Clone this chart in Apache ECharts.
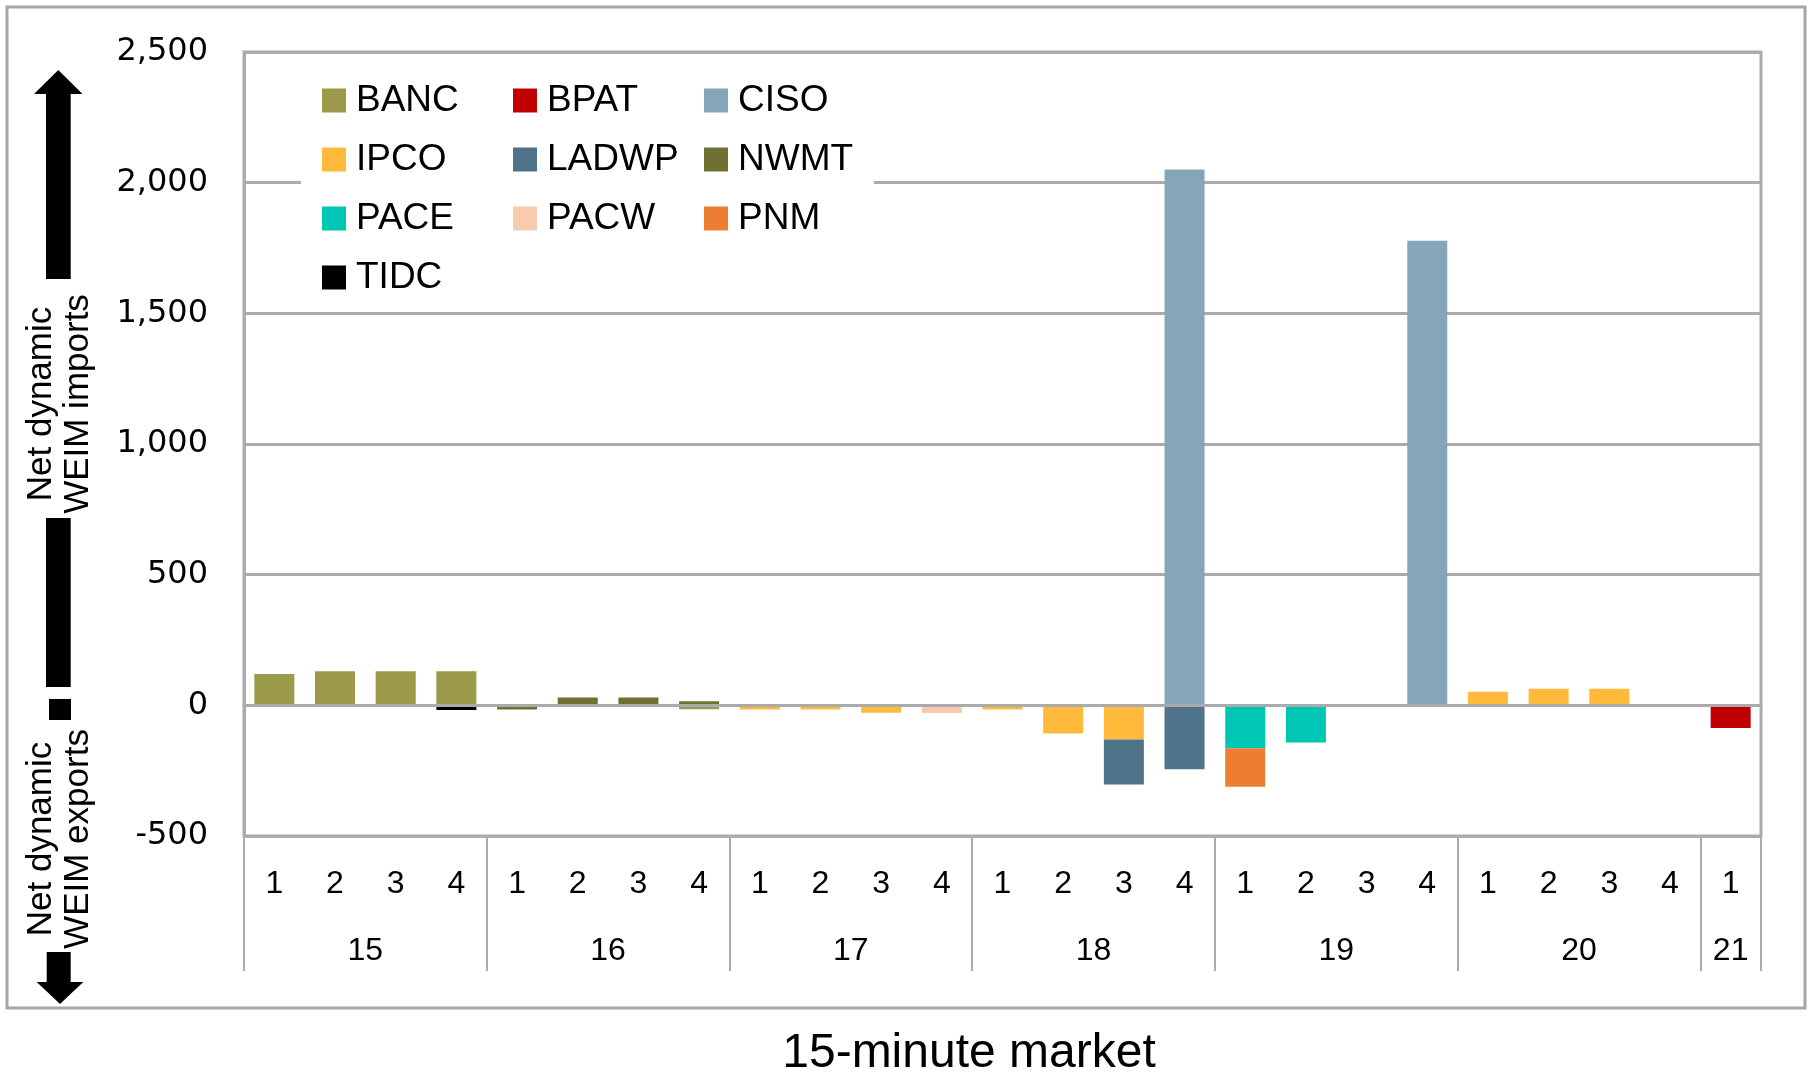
<!DOCTYPE html>
<html>
<head>
<meta charset="utf-8">
<script src="https://cdn.jsdelivr.net/npm/echarts@6/dist/echarts.min.js"></script>
<style>
html,body{margin:0;padding:0;background:#fff;}
#chart{width:1808px;height:1074px;}
</style>
</head>
<body>
<div id="chart"></div>
<script>
// ---- data ----
const hours = ['15','16','17','18','19','20','21'];
const intervalsPerHour = [4,4,4,4,4,4,1];
const seriesNames = ['BANC','BPAT','CISO','IPCO','LADWP','NWMT','PACE','PACW','PNM','TIDC'];
const seriesColors = ['#9A9A4A','#C00000','#84A6B8','#FFB93B','#4F7489','#707034','#00C7B3','#F7CBAD','#ED7D31','#000000'];
const yTicks = [-500, 0, 500, 1000, 1500, 2000, 2500];
//            15-1 15-2 15-3 15-4 16-1 16-2 16-3 16-4 17-1 17-2 17-3 17-4 18-1 18-2 18-3 18-4 19-1 19-2 19-3 19-4 20-1 20-2 20-3 20-4 21-1
const BANC  = [120, 130, 130, 130, null,null,null,-15, null,null,null,null,null,null,null,null,null,null,null,null,null,null,null,null,null];
const BPAT  = [null,null,null,null,null,null,null,null,null,null,null,null,null,null,null,null,null,null,null,null,null,null,null,null,-87];
const CISO  = [null,null,null,null,null,null,null,null,null,null,null,null,null,null,null,2050,null,null,null,1778,null,null,null,null,null];
const IPCO  = [null,null,null,null,null,null,null,null,-16, -16, -28, null,-16, -108,-131,null,null,null,null,null,52,  63,  63,  null,null];
const LADWP = [null,null,null,null,null,null,null,null,null,null,null,null,null,null,-172,-245,null,null,null,null,null,null,null,null,null];
const NWMT  = [null,null,null,null,-16, 30,  30,  16,  null,null,null,null,null,null,null,null,null,null,null,null,null,null,null,null,null];
const PACE  = [null,null,null,null,null,null,null,null,null,null,null,null,null,null,null,null,-164,-142,null,null,null,null,null,null,null];
const PACW  = [null,null,null,null,null,null,null,null,null,null,null,-29, null,null,null,null,null,null,null,null,null,null,null,null,null];
const PNM   = [null,null,null,null,null,null,null,null,null,null,null,null,null,null,null,null,-148,null,null,null,null,null,null,null,null];
const TIDC  = [null,null,null,-18, null,null,null,null,null,null,null,null,null,null,null,null,null,null,null,null,null,null,null,null,null];
const seriesData = [BANC,BPAT,CISO,IPCO,LADWP,NWMT,PACE,PACW,PNM,TIDC];
const xTitle = '15-minute market';
const importsLabel = 'Net dynamic\nWEIM imports';
const exportsLabel = 'Net dynamic\nWEIM exports';

// ---- derived categories ----
const intervalLabels = [];
hours.forEach((h, i) => { for (let q = 1; q <= intervalsPerHour[i]; q++) intervalLabels.push(String(q)); });
const nCat = intervalLabels.length;
// half-slot axis (boundaryGap false) for hour group labels & separators
const groupSlots = new Array(2 * nCat + 1).fill('');
const boundaries = new Set([0]);
let pos = 0;
hours.forEach((h, i) => {
  groupSlots[2 * pos + intervalsPerHour[i]] = h;
  pos += intervalsPerHour[i];
  boundaries.add(2 * pos);
});

const GRID = '#ABABAB';
const FONT = 'Liberation Sans';

const chart = echarts.init(document.getElementById('chart'));
const legendCommon = {
  orient: 'vertical', icon: 'rect', itemWidth: 24, itemHeight: 24, itemGap: 22,
  padding: 0, top: 82, z: 5, selectedMode: false,
  textStyle: { fontFamily: FONT, fontSize: 37, lineHeight: 37, color: '#000', padding: [0,0,0,5] }
};
chart.setOption({
  animation: false,
  backgroundColor: '#fff',
  grid: { left: 244, right: 47, top: 52, bottom: 238, show: true, borderColor: GRID, borderWidth: 3 },
  legend: [
    Object.assign({}, legendCommon, { left: 322, data: ['BANC','IPCO','PACE','TIDC'] }),
    Object.assign({}, legendCommon, { left: 513, data: ['BPAT','LADWP','PACW'] }),
    Object.assign({}, legendCommon, { left: 704, data: ['CISO','NWMT','PNM'] })
  ],
  xAxis: [
    { type: 'category', data: intervalLabels, z: 3,
      axisLine: { show: true, onZero: true, lineStyle: { color: GRID, width: 3 } },
      axisTick: { show: false }, axisLabel: { show: false }, splitLine: { show: false } },
    { type: 'category', data: intervalLabels, position: 'bottom',
      axisLine: { show: false, onZero: false }, axisTick: { show: false },
      axisLabel: { fontFamily: FONT, fontSize: 32, color: '#000', margin: 32, interval: 0 } },
    { type: 'category', data: groupSlots, position: 'bottom', boundaryGap: false,
      axisLine: { show: false, onZero: false },
      axisTick: { show: true, length: 135, inside: false, interval: (i) => boundaries.has(i), lineStyle: { color: GRID, width: 2 } },
      axisLabel: { fontFamily: FONT, fontSize: 32, color: '#000', margin: 99, interval: 0 } }
  ],
  yAxis: {
    type: 'value', min: yTicks[0], max: yTicks[yTicks.length - 1], interval: 500,
    axisLine: { show: true, lineStyle: { color: GRID, width: 3 } },
    axisTick: { show: false },
    splitLine: { lineStyle: { color: GRID, width: 3 } },
    axisLabel: { fontFamily: 'DejaVu Sans', fontSize: 32, color: '#000', margin: 36,
      formatter: (v) => v.toLocaleString('en-US') }
  },
  series: seriesNames.map((name, i) => ({
    name: name, type: 'bar', stack: 'net', barWidth: 40, xAxisIndex: 0,
    itemStyle: { color: seriesColors[i] },
    data: seriesData[i]
  })),
  graphic: [
    { type: 'rect', z: 3, shape: { x: 301, y: 64, width: 573, height: 236 }, style: { fill: '#fff' } },
    { type: 'rect', z: 10, shape: { x: 7, y: 7, width: 1798, height: 1001 }, style: { fill: 'none', stroke: '#A6A6A6', lineWidth: 3 } },
    { type: 'polygon', z: 10, shape: { points: [[58.3,70],[82.5,94],[70.7,94],[70.7,279],[46,279],[46,94],[34,94]] }, style: { fill: '#000' } },
    { type: 'rect', z: 10, shape: { x: 46, y: 518, width: 24.7, height: 169 }, style: { fill: '#000' } },
    { type: 'rect', z: 10, shape: { x: 49, y: 699, width: 22, height: 21 }, style: { fill: '#000' } },
    { type: 'polygon', z: 10, shape: { points: [[46.7,952],[70.7,952],[70.7,982],[83.3,982],[60,1004],[36.7,982],[46.7,982]] }, style: { fill: '#000' } },
    { type: 'text', z: 10, x: 60, y: 404, rotation: Math.PI / 2,
      style: { text: importsLabel, font: '35px "Liberation Sans"', fill: '#000', align: 'center', verticalAlign: 'middle', lineHeight: 37 } },
    { type: 'text', z: 10, x: 60, y: 839, rotation: Math.PI / 2,
      style: { text: exportsLabel, font: '35px "Liberation Sans"', fill: '#000', align: 'center', verticalAlign: 'middle', lineHeight: 37 } },
    { type: 'text', z: 10, x: 969, y: 1054,
      style: { text: xTitle, font: '48px "Liberation Sans"', fill: '#000', align: 'center', verticalAlign: 'middle' } }
  ]
});
</script>
</body>
</html>
